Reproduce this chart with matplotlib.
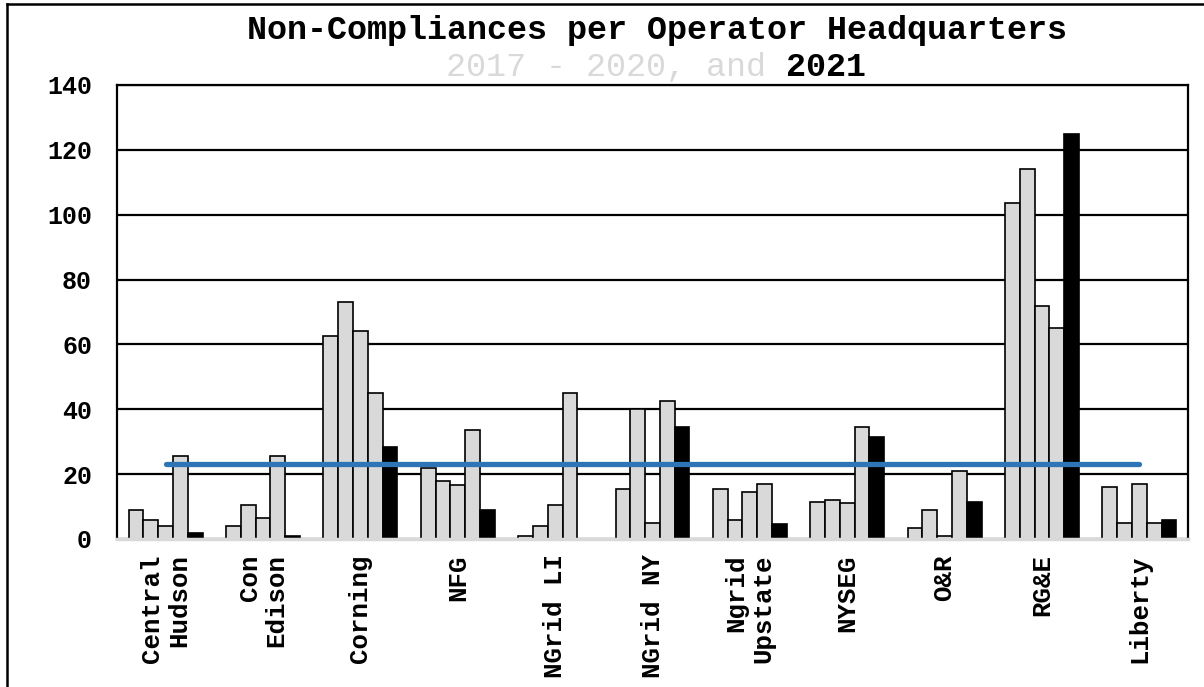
import matplotlib
matplotlib.use("Agg")
import matplotlib.pyplot as plt
import numpy as np
from matplotlib.lines import Line2D

categories = ["Central\nHudson", "Con\nEdison", "Corning", "NFG", "NGrid LI",
              "NGrid NY", "Ngrid\nUpstate", "NYSEG", "O&R", "RG&E", "Liberty"]
y2017 = [9, 4, 62.5, 22, 1, 15.5, 15.5, 11.5, 3.5, 103.5, 16]
y2018 = [6, 10.5, 73, 18, 4, 40, 6, 12, 9, 114, 5]
y2019 = [4, 6.5, 64, 16.5, 10.5, 5, 14.5, 11, 1, 72, 17]
y2020 = [25.5, 25.5, 45, 33.5, 45, 42.5, 17, 34.5, 21, 65, 5]
y2021 = [2, 1, 28.5, 9, 0, 34.5, 4.5, 31.5, 11.5, 125, 6]
average = [23] * 11
yticks = [0, 20, 40, 60, 80, 100, 120, 140]

series = [y2017, y2018, y2019, y2020, y2021]
fills = ["#d9d9d9", "#d9d9d9", "#d9d9d9", "#d9d9d9", "#000000"]

FONT = "Liberation Mono"
fig = plt.figure(figsize=(12.04, 6.87), dpi=100)
ax = fig.add_axes([117/1204, 1-539/687, (1188-117)/1204, (539-85)/687])

x = np.arange(len(categories))
w = 0.152
for i, (vals, fc) in enumerate(zip(series, fills)):
    ax.bar(x + (i - 2) * w, vals, width=w, color=fc, edgecolor="black",
           linewidth=1.2, zorder=3)

ax.plot(x, average, color="#2e75b6", linewidth=3.8, solid_capstyle="round", zorder=4)

ax.set_xlim(-0.5, len(categories) - 0.5)
ax.set_ylim(0, 140)
ax.set_yticks(yticks)
ax.yaxis.grid(True, color="black", linewidth=1.6, zorder=0)
ax.set_axisbelow(True)
ax.tick_params(axis="both", length=0)
ax.tick_params(axis="y", pad=18)
ax.tick_params(axis="x", pad=11)
ax.set_yticklabels([str(t) for t in yticks], fontfamily=FONT, fontweight="bold", fontsize=18)
ax.set_xticks(x)
ax.set_xticklabels(categories, rotation=90, fontfamily=FONT, fontweight="bold",
                   fontsize=18.5, ha="center", va="top", multialignment="right",
                   linespacing=1.15)

for s in ["left", "right", "top"]:
    ax.spines[s].set_color("black")
    ax.spines[s].set_linewidth(1.6)
ax.spines["bottom"].set_color("#d9d9d9")
ax.spines["bottom"].set_linewidth(2.5)
ax.spines["bottom"].set_zorder(6)

fig.text(657/1204, 1 - 31/687, "Non-Compliances per Operator Headquarters",
         ha="center", va="center", fontfamily=FONT, fontweight="bold", fontsize=24)
fig.text(766/1204, 1 - 68/687, "2017 - 2020, and", ha="right", va="center",
         fontfamily=FONT, fontweight="normal", fontsize=24, color="#d9d9d9")
fig.text(786/1204, 1 - 68/687, "2021", ha="left", va="center",
         fontfamily=FONT, fontweight="bold", fontsize=24, color="black")

fig.add_artist(Line2D([7/1204, 7/1204], [0, 1 - 4/687], transform=fig.transFigure,
                      color="black", linewidth=1.8))
fig.add_artist(Line2D([7/1204, 1], [1 - 4/687, 1 - 4/687], transform=fig.transFigure,
                      color="black", linewidth=1.8))

fig.savefig("out.png", dpi=100)
